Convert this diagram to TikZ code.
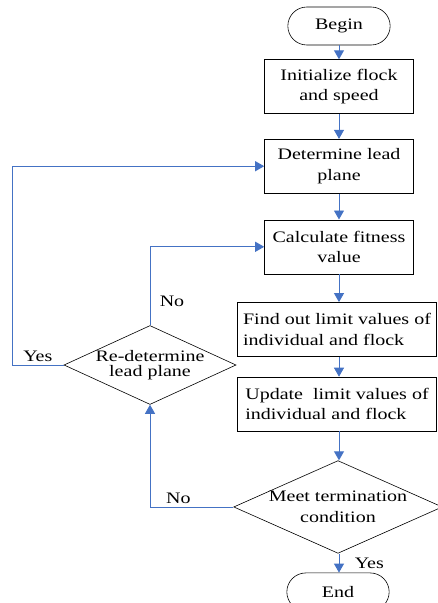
\documentclass[tikz,border=0pt]{standalone}
\usepackage{fontspec}
\setmainfont{Liberation Serif}[FakeStretch=1.25]
\usetikzlibrary{shapes.geometric,shapes.misc,positioning,arrows.meta}

\definecolor{flowblue}{HTML}{4472C4}

\begin{document}
\begin{tikzpicture}[
        x=1pt, y=1pt,
        font=\fontsize{16}{20.5}\selectfont
    ]

    \tikzstyle{block} = [rectangle,draw,line width=0.6pt,minimum width=149pt,minimum height=54pt,align=center,inner xsep=4pt]
    \tikzstyle{wide}  = [block,minimum width=199pt,align=left]
    \tikzstyle{term}  = [rounded rectangle,draw,line width=0.6pt,minimum width=109pt,minimum height=38pt]
    \tikzstyle{test}  = [diamond,draw,line width=0.6pt,inner sep=0pt,align=center]
    \tikzstyle{flow}  = [draw=flowblue,line width=0.9pt,-{Triangle[width=10pt,length=9pt]}]

    \useasboundingbox (0,0) rectangle (437,-603);

    \node[term] (begin) at (339,-26) {Begin};
    \node[block] (init) [below=14pt of begin] {Initialize flock\\and speed};
    \node[block] (lead) [below=25pt of init]  {Determine lead\\plane};
    \node[block] (fit)  [below=26pt of lead]  {Calculate fitness\\value};
    \node[wide]  (find) [below=28pt of fit, xshift=-2pt] {Find out limit values of\\individual and flock};
    \node[wide]  (upd)  [below=20pt of find]  {Update\ \ limit values of\\individual and flock};
    \node[test,aspect=2.25,minimum width=188pt] (meet) [below=29pt of upd, xshift=1pt] {Meet termination\\condition};
    \node[term] (end) [below=19pt of meet] {End};

    \node[test,aspect=2.18,minimum width=164pt,font=\fontsize{16}{14.5}\selectfont] (redo) at (150,-365) {Re-determine\\lead plane};
    \coordinate (yesturn) at (12,-365);

    % main line
    \foreach \a/\b in {begin/init, init/lead, lead/fit, fit/find, find/upd, upd/meet}
        \draw[flow] (\a.south -| begin) -- (\b.north -| begin);
    \draw[flow] (meet.south -| begin) -- node[right=12pt] {Yes} (end.north -| begin);

    % loops
    \draw[flow] (meet.west) -| node[pos=0.33,above] {No} (redo.south);
    \draw[flow] (redo.north) |- node[pos=0.15,right=6pt] {No} (fit.west);
    \draw[flow] (redo.west) -- node[above] {Yes} (yesturn) |- (lead.west);

\end{tikzpicture}
\end{document}
